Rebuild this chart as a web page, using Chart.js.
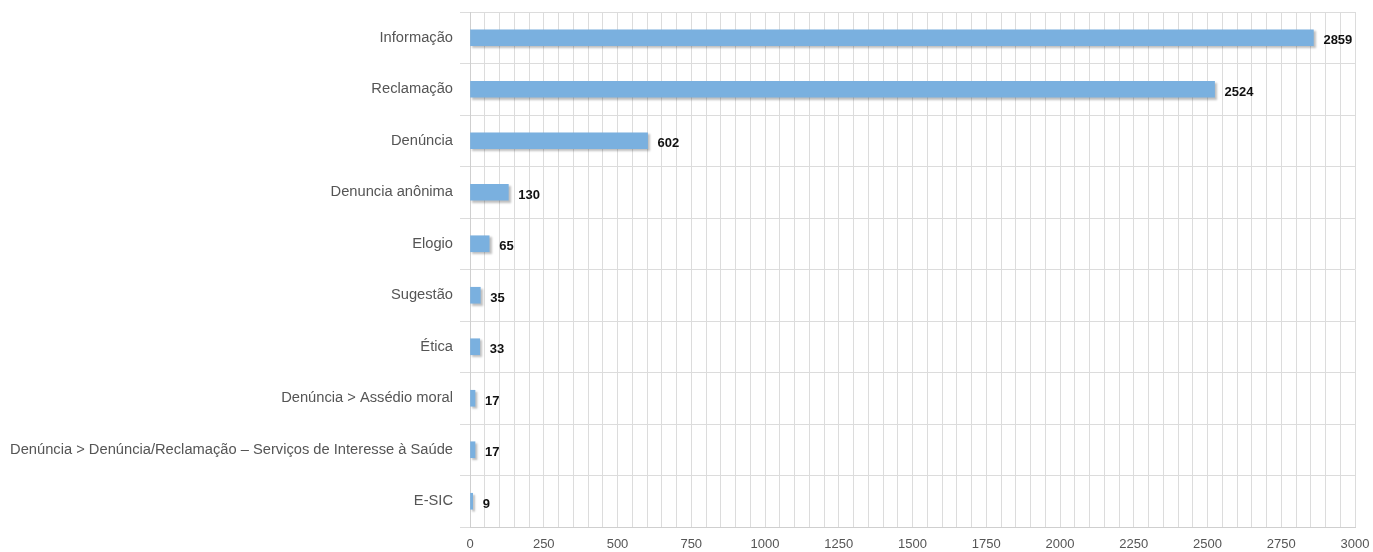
<!DOCTYPE html>
<html>
<head>
<meta charset="utf-8">
<script src="https://cdn.jsdelivr.net/npm/chart.js@4/dist/chart.umd.min.js"></script>
<style>
  html, body { margin: 0; padding: 0; background: #fff; }
  #wrap { width: 1373px; height: 552px; }
</style>
</head>
<body>
<div id="wrap"><canvas id="chart"></canvas></div>
<script>
const categories = [
  "Informação",
  "Reclamação",
  "Denúncia",
  "Denuncia anônima",
  "Elogio",
  "Sugestão",
  "Ética",
  "Denúncia > Assédio moral",
  "Denúncia > Denúncia/Reclamação – Serviços de Interesse à Saúde",
  "E-SIC"
];
const counts = [2859, 2524, 602, 130, 65, 35, 33, 17, 17, 9];
const xTickLabels = [0, 250, 500, 750, 1000, 1250, 1500, 1750, 2000, 2250, 2500, 2750, 3000];

// soft drop shadow behind the bars
const barShadow = {
  id: "barShadow",
  beforeDatasetsDraw(chart) {
    const ctx = chart.ctx;
    ctx.save();
    ctx.shadowColor = "rgba(0,0,0,0.25)";
    ctx.shadowOffsetX = 2;
    ctx.shadowOffsetY = 2;
    ctx.shadowBlur = 2;
  },
  afterDatasetsDraw(chart) {
    chart.ctx.restore();
  }
};

// value labels right of each bar
const valueLabels = {
  id: "valueLabels",
  afterDatasetsDraw(chart) {
    const ctx = chart.ctx;
    const meta = chart.getDatasetMeta(0);
    ctx.save();
    ctx.font = "bold 13px 'Liberation Sans', Arial, sans-serif";
    ctx.fillStyle = "#111";
    ctx.textBaseline = "middle";
    ctx.textAlign = "left";
    meta.data.forEach((bar, i) => {
      ctx.fillText(String(counts[i]), bar.x + 10, bar.y + 3);
    });
    ctx.restore();
  }
};

new Chart(document.getElementById("chart").getContext("2d"), {
  type: "bar",
  data: {
    labels: categories,
    datasets: [{
      data: counts,
      backgroundColor: "#7ab0df",
      borderWidth: 0,
      barThickness: 16
    }]
  },
  options: {
    indexAxis: "y",
    responsive: true,
    maintainAspectRatio: false,
    animation: false,
    layout: { padding: { left: 0, right: 0, top: 0, bottom: 0 } },
    plugins: {
      legend: { display: false },
      tooltip: { enabled: false }
    },
    scales: {
      x: {
        min: 0,
        max: 3000,
        afterFit: (scale) => { scale.height = 25; scale.paddingRight = 18; },
        ticks: {
          stepSize: 50,
          autoSkip: false,
          maxRotation: 0,
          color: "#555",
          font: { family: "'Liberation Sans', Arial, sans-serif", size: 13 },
          padding: 10,
          callback: (v) => xTickLabels.includes(v) ? String(v) : ""
        },
        grid: { color: "#dcdcdc", drawTicks: false },
        border: { color: "#cfcfcf" }
      },
      y: {
        afterFit: (scale) => { scale.width = 470; scale.paddingTop = 12; scale.paddingBottom = 0; },
        ticks: {
          color: "#555",
          font: { family: "'Liberation Sans', Arial, sans-serif", size: 14.7 },
          padding: 7
        },
        grid: { color: "#dcdcdc", tickLength: 10, offset: true },
        border: { color: "#cfcfcf" }
      }
    }
  },
  plugins: [barShadow, valueLabels]
});
</script>
</body>
</html>
